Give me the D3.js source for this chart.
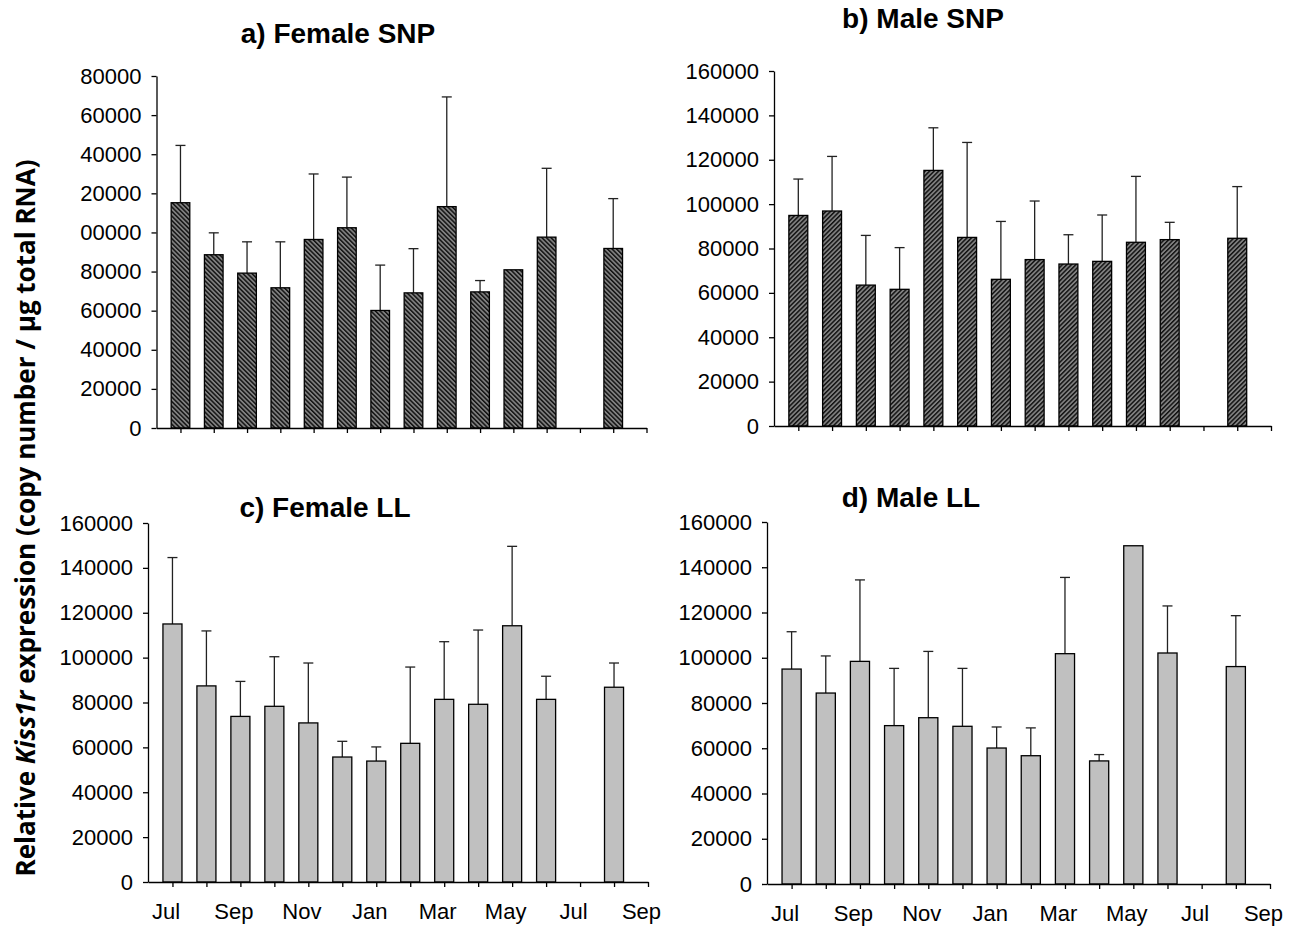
<!DOCTYPE html>
<html>
<head>
<meta charset="utf-8">
<script src="https://cdn.jsdelivr.net/npm/d3@7"></script>
<style>
  body { margin: 0; background: #fff; }
  svg { display: block; }
  .tick text { font-family: "Liberation Sans", Arial, sans-serif; font-size: 22px; fill: #000; }
  .domain, .tick line { stroke: #000; stroke-width: 1.3px; }
</style>
</head>
<body>
<div id="wrapper"></div>
<script>
// months on the x axis (Jul .. Sep of next year), only every other one is labelled
const months = ["Jul", "Aug", "Sep", "Oct", "Nov", "Dec", "Jan", "Feb", "Mar", "Apr", "May", "Jun", "Jul", "Aug", "Sep"]
const monthLabels = ["Jul", "", "Sep", "", "Nov", "", "Jan", "", "Mar", "", "May", "", "Jul", "", "Sep"]

// y tick labels (panel a labels are cut off in the original)
const yTicksA = [0, 20000, 40000, 60000, 80000, 100000, 120000, 140000, 160000, 180000]
const yLabelsA = ["0", "20000", "40000", "60000", "80000", "00000", "20000", "40000", "60000", "80000"]
const yTicks = [0, 20000, 40000, 60000, 80000, 100000, 120000, 140000, 160000]

// mean and error (upper SEM) per month, null = no sample
const femaleSNP = [115200, 88600, 79200, 71700, 96400, 102400, 60100, 69100, 113200, 69600, 80900, 97600, null, 91800]
const femaleSNPErr = [29300, 11200, 16000, 23500, 33500, 25900, 23200, 22600, 56100, 5800, 0, 35200, null, 25500]

const maleSNP = [94900, 96900, 63500, 61600, 115200, 85000, 66100, 75000, 73000, 74200, 82800, 84000, null, 84600]
const maleSNPErr = [16400, 24600, 22400, 18800, 19200, 42800, 26100, 26400, 13200, 20900, 29700, 7800, null, 23300]

const femaleLL = [115000, 87400, 73800, 78300, 70900, 55700, 53900, 61800, 81400, 79200, 114200, 81400, null, 86800]
const femaleLLErr = [29600, 24500, 15600, 22100, 26700, 7000, 6300, 34000, 25700, 33100, 35400, 10300, null, 10800]

const maleLL = [95000, 84400, 98400, 70000, 73500, 69700, 60100, 56700, 101800, 54400, 149500, 102100, null, 96100]
const maleLLErr = [16500, 16400, 36000, 25300, 29300, 25600, 9300, 12300, 33700, 2800, 0, 20800, null, 22500]

const svg = d3.select("#wrapper")
  .append("svg")
  .attr("width", 1292)
  .attr("height", 928)

// hatch patterns for the SNP bars
const defs = svg.append("defs")
function hatch(id, angle) {
  const p = defs.append("pattern")
    .attr("id", id)
    .attr("patternUnits", "userSpaceOnUse")
    .attr("width", 3.2)
    .attr("height", 3.2)
    .attr("patternTransform", `rotate(${angle})`)
  p.append("rect").attr("width", 3.2).attr("height", 3.2).attr("fill", "#808080")
  p.append("line")
    .attr("x1", 0.7).attr("y1", 0).attr("x2", 0.7).attr("y2", 3.2)
    .attr("stroke", "#111").attr("stroke-width", 1.5)
}
hatch("hatchBack", -45)
hatch("hatchFwd", 45)

function drawPanel(opts) {
  const { left, right, top, bottom, means, errs, ticks, tickLabels, xLabels, fill, title, titleX, titleY } = opts

  const xScale = d3.scaleLinear()
    .domain([-0.72, months.length - 1])
    .range([left, right])

  const yScale = d3.scaleLinear()
    .domain([0, d3.max(ticks)])
    .range([bottom, top])

  const step = xScale(1) - xScale(0)
  const barWidth = step * 0.56

  const g = svg.append("g")

  const data = means.map((m, i) => ({ i, m, e: errs[i] })).filter(d => d.m != null)

  // error bars (upper only) drawn behind the bars
  const eb = g.selectAll(".err")
    .data(data.filter(d => d.e > 0))
    .enter().append("g")
    .attr("stroke", "#222")
    .attr("stroke-width", 1.3)
  eb.append("line")
    .attr("x1", d => xScale(d.i)).attr("x2", d => xScale(d.i))
    .attr("y1", d => yScale(d.m)).attr("y2", d => yScale(d.m + d.e))
  eb.append("line")
    .attr("x1", d => xScale(d.i) - 5).attr("x2", d => xScale(d.i) + 5)
    .attr("y1", d => yScale(d.m + d.e)).attr("y2", d => yScale(d.m + d.e))

  g.selectAll("rect")
    .data(data)
    .enter().append("rect")
    .attr("x", d => xScale(d.i) - barWidth / 2)
    .attr("y", d => yScale(d.m))
    .attr("width", barWidth)
    .attr("height", d => yScale(0) - yScale(d.m))
    .attr("fill", fill)
    .attr("stroke", "#000")
    .attr("stroke-width", 1.3)

  const yAxisGenerator = d3.axisLeft(yScale)
    .tickValues(ticks)
    .tickFormat((d, i) => tickLabels[i])
    .tickSize(5)
    .tickSizeOuter(0)
    .tickPadding(10)

  svg.append("g")
    .attr("transform", `translate(${left},0)`)
    .call(yAxisGenerator)

  const xAxisGenerator = d3.axisBottom(xScale)
    .tickValues(d3.range(months.length))
    .tickFormat((d, i) => xLabels ? xLabels[i] : "")
    .tickSize(5)
    .tickSizeOuter(0)
    .tickPadding(16)

  const xAxis = svg.append("g")
    .attr("transform", `translate(0,${bottom})`)
    .call(xAxisGenerator)
  xAxis.selectAll(".tick text").attr("dx", -7)

  svg.append("text")
    .attr("x", titleX)
    .attr("y", titleY)
    .attr("text-anchor", "middle")
    .style("font-family", "'Liberation Sans', Arial, sans-serif")
    .style("font-weight", "bold")
    .style("font-size", "28px")
    .text(title)
}

drawPanel({ left: 156.5, right: 646.5, top: 76, bottom: 428, means: femaleSNP, errs: femaleSNPErr,
  ticks: yTicksA, tickLabels: yLabelsA, xLabels: null, fill: "url(#hatchBack)",
  title: "a) Female SNP", titleX: 338, titleY: 43 })

drawPanel({ left: 774, right: 1271, top: 71, bottom: 426, means: maleSNP, errs: maleSNPErr,
  ticks: yTicks, tickLabels: yTicks.map(String), xLabels: null, fill: "url(#hatchFwd)",
  title: "b) Male SNP", titleX: 923, titleY: 28 })

drawPanel({ left: 148, right: 648, top: 523, bottom: 882, means: femaleLL, errs: femaleLLErr,
  ticks: yTicks, tickLabels: yTicks.map(String), xLabels: monthLabels, fill: "#c0c0c0",
  title: "c) Female LL", titleX: 325, titleY: 517 })

drawPanel({ left: 767, right: 1270, top: 522, bottom: 884, means: maleLL, errs: maleLLErr,
  ticks: yTicks, tickLabels: yTicks.map(String), xLabels: monthLabels, fill: "#c0c0c0",
  title: "d) Male LL", titleX: 911, titleY: 507 })

// shared y axis label
const yLabel = svg.append("text")
  .attr("transform", "translate(35,518) rotate(-90)")
  .attr("text-anchor", "middle")
  .style("font-family", "'Open Sans', 'Noto Sans', sans-serif")
  .style("font-weight", "bold")
  .style("font-size", "26px")
yLabel.append("tspan").text("Relative ")
yLabel.append("tspan").style("font-style", "italic").text("Kiss1r")
yLabel.append("tspan").text(" expression (copy number / µg total RNA)")
</script>
</body>
</html>
